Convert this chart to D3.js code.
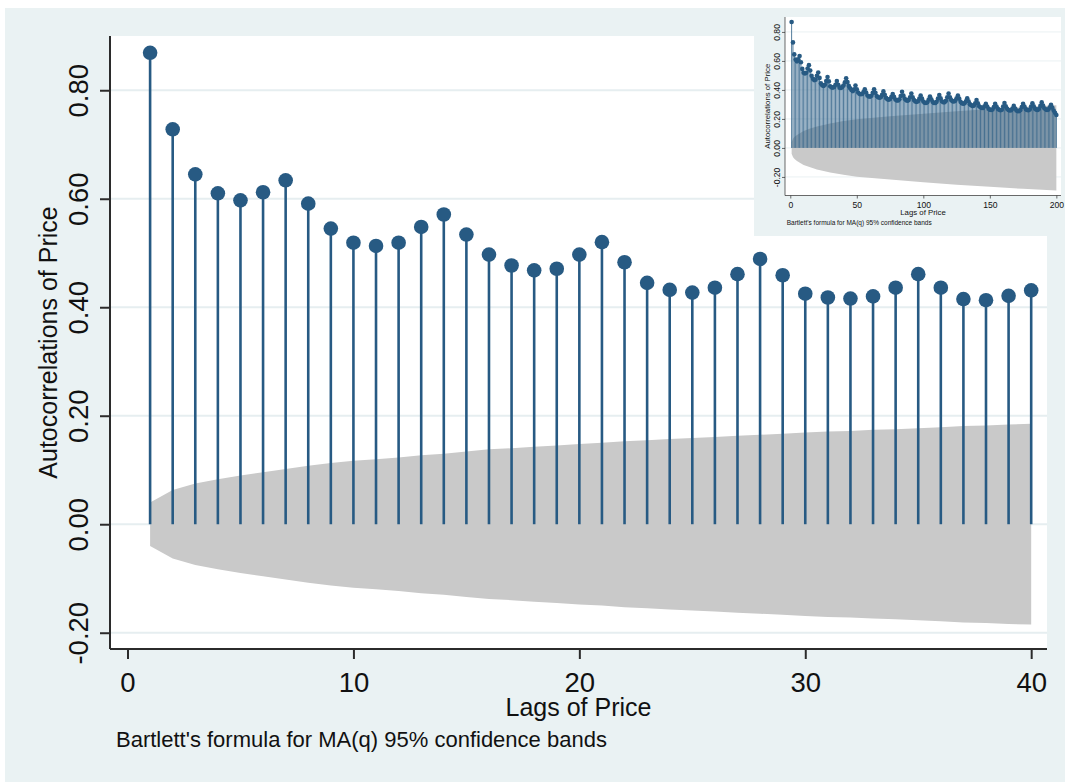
<!DOCTYPE html>
<html>
<head>
<meta charset="utf-8">
<script src="https://cdn.jsdelivr.net/npm/d3@7/dist/d3.min.js"></script>
<style>
  body { margin: 0; background: #ffffff; }
  text { font-family: "Liberation Sans", Arial, Helvetica, sans-serif; fill: #111; }
</style>
</head>
<body>
<svg id="canvas" width="1065" height="782"></svg>
<script>
// autocorrelations of Price, lags 1..40
let acf40 = [0.869, 0.728, 0.645, 0.610, 0.597, 0.612, 0.634, 0.591, 0.545, 0.519,
             0.513, 0.519, 0.548, 0.571, 0.534, 0.497, 0.477, 0.468, 0.471, 0.497,
             0.520, 0.483, 0.445, 0.432, 0.427, 0.436, 0.461, 0.489, 0.459, 0.425,
             0.418, 0.416, 0.420, 0.436, 0.461, 0.436, 0.415, 0.413, 0.421, 0.431]

// Bartlett 95% band half-width, lags 1..40
let band40 = [0.040, 0.063, 0.075, 0.083, 0.090, 0.096, 0.102, 0.108, 0.113, 0.117,
              0.120, 0.123, 0.127, 0.130, 0.134, 0.138, 0.140, 0.143, 0.145, 0.148,
              0.150, 0.153, 0.155, 0.157, 0.159, 0.161, 0.163, 0.165, 0.167, 0.169,
              0.171, 0.172, 0.174, 0.175, 0.177, 0.179, 0.181, 0.182, 0.184, 0.185]

// inset: lags 41..200
let acfTail = [0.452, 0.480, 0.455, 0.428, 0.412, 0.400, 0.392, 0.405, 0.430,
               0.405, 0.382, 0.373, 0.370, 0.372, 0.385, 0.405,
               0.382, 0.362, 0.355, 0.354, 0.360, 0.380, 0.405,
               0.380, 0.358, 0.350, 0.346, 0.350, 0.366, 0.390,
               0.366, 0.345, 0.336, 0.333, 0.337, 0.352, 0.372,
               0.352, 0.334, 0.328, 0.328, 0.335, 0.358, 0.388,
               0.362, 0.340, 0.330, 0.326, 0.330, 0.350, 0.375,
               0.350, 0.330, 0.320, 0.318, 0.322, 0.340, 0.362,
               0.340, 0.320, 0.312, 0.310, 0.315, 0.333, 0.355,
               0.335, 0.318, 0.310, 0.310, 0.318, 0.340, 0.365,
               0.342, 0.322, 0.315, 0.315, 0.325, 0.350, 0.375,
               0.350, 0.330, 0.322, 0.320, 0.325, 0.342, 0.362,
               0.340, 0.318, 0.308, 0.305, 0.308, 0.322, 0.343,
               0.322, 0.302, 0.294, 0.290, 0.292, 0.308, 0.330,
               0.308, 0.288, 0.280, 0.276, 0.276, 0.288, 0.305,
               0.286, 0.270, 0.264, 0.262, 0.265, 0.282, 0.305,
               0.286, 0.270, 0.263, 0.260, 0.263, 0.285, 0.310,
               0.288, 0.270, 0.262, 0.258, 0.260, 0.272, 0.290,
               0.272, 0.258, 0.254, 0.254, 0.262, 0.282, 0.305,
               0.285, 0.268, 0.262, 0.260, 0.265, 0.285, 0.308,
               0.287, 0.270, 0.263, 0.262, 0.270, 0.290, 0.314,
               0.292, 0.274, 0.266, 0.262, 0.265, 0.280, 0.298,
               0.278, 0.258, 0.242, 0.227]
let acf200 = acf40.concat(acfTail)

let bandLags200 = [1, 2, 3, 5, 10, 15, 20, 25, 30, 40, 50, 75, 100, 125, 150, 175, 200]
let band200 = [0.040, 0.063, 0.075, 0.090, 0.117, 0.134, 0.148, 0.159, 0.169, 0.185,
               0.198, 0.218, 0.236, 0.253, 0.268, 0.282, 0.294]

let yTicks = [-0.2, 0, 0.2, 0.4, 0.6, 0.8]
let xTicks40 = [0, 10, 20, 30, 40]
let xTicks200 = [0, 50, 100, 150, 200]

let yTitle = 'Autocorrelations of Price'
let xTitle = 'Lags of Price'
let note = "Bartlett's formula for MA(q) 95% confidence bands"

let navy = '#275a83'
let bandGray = '#c9c9c9'
let bg = '#eaf2f3'
let gridColor = '#e6eef0'

let canvas = d3.select('#canvas')

canvas.append('rect')
      .attr('x', 5).attr('y', 8)
      .attr('width', 1060).attr('height', 774)
      .attr('fill', bg)

// Stata style: plain hyphen for negatives
let fmt2 = (d) => d3.format('.2f')(d).replace('\u2212', '-')

let drawPanel = (g, p) => {
  let xScale = d3.scaleLinear().domain(p.xDomain).range([p.left, p.right])
  let yScale = d3.scaleLinear().domain(p.yDomain).range([p.bottom, p.top])

  g.append('rect')
   .attr('x', p.left).attr('y', p.top)
   .attr('width', p.right - p.left).attr('height', p.bottom - p.top)
   .attr('fill', 'white')

  g.selectAll('line.grid')
   .data(yTicks)
   .enter()
   .append('line')
   .attr('class', 'grid')
   .attr('x1', p.left).attr('x2', p.right)
   .attr('y1', (d) => yScale(d)).attr('y2', (d) => yScale(d))
   .attr('stroke', gridColor)
   .attr('stroke-width', p.gridWidth)

  let area = d3.area()
               .x((d) => xScale(d.lag))
               .y0((d) => yScale(-d.se))
               .y1((d) => yScale(d.se))
  g.append('path')
   .datum(p.band)
   .attr('d', area)
   .attr('fill', bandGray)

  let points = p.acf.map((v, i) => ({ lag: i + 1, value: v }))

  g.selectAll('line.stem')
   .data(points)
   .enter()
   .append('line')
   .attr('class', 'stem')
   .attr('x1', (d) => xScale(d.lag)).attr('x2', (d) => xScale(d.lag))
   .attr('y1', yScale(0)).attr('y2', (d) => yScale(d.value))
   .attr('stroke', navy)
   .attr('stroke-width', p.stemWidth)

  g.selectAll('circle.dot')
   .data(points)
   .enter()
   .append('circle')
   .attr('class', 'dot')
   .attr('cx', (d) => xScale(d.lag))
   .attr('cy', (d) => yScale(d.value))
   .attr('r', p.r)
   .attr('fill', navy)

  // y axis
  let yAxis = d3.axisLeft(yScale)
                .tickValues(yTicks)
                .tickFormat(fmt2)
                .tickSize(p.tick)
                .tickSizeOuter(0)
  let yg = g.append('g')
            .attr('transform', 'translate(' + p.left + ',0)')
            .call(yAxis)
  yg.select('.domain').remove()
  yg.selectAll('.tick line').attr('stroke', '#2b2b2b').attr('stroke-width', p.axisWidth)
  yg.selectAll('.tick text')
    .attr('transform', 'rotate(-90)')
    .attr('x', 0)
    .attr('y', -p.yLabelGap)
    .attr('dy', 0)
    .attr('text-anchor', 'middle')
    .style('font-size', p.tickFont + 'px')
    .style('font-family', '"Liberation Sans", Arial, sans-serif')
    .attr('fill', '#111')
  g.append('line')
   .attr('x1', p.left).attr('x2', p.left)
   .attr('y1', p.top).attr('y2', p.bottom)
   .attr('stroke', '#2b2b2b').attr('stroke-width', p.axisWidth)

  // x axis
  let xAxis = d3.axisBottom(xScale)
                .tickValues(p.xTicks)
                .tickFormat(d3.format('d'))
                .tickSize(p.tick)
                .tickSizeOuter(0)
  let xg = g.append('g')
            .attr('transform', 'translate(0,' + p.bottom + ')')
            .call(xAxis)
  xg.select('.domain').remove()
  xg.selectAll('.tick line').attr('stroke', '#2b2b2b').attr('stroke-width', p.axisWidth)
  xg.selectAll('.tick text')
    .attr('y', p.xLabelGap)
    .attr('dy', 0)
    .style('font-size', p.tickFont + 'px')
    .style('font-family', '"Liberation Sans", Arial, sans-serif')
    .attr('fill', '#111')
  g.append('line')
   .attr('x1', p.left).attr('x2', p.right)
   .attr('y1', p.bottom).attr('y2', p.bottom)
   .attr('stroke', '#2b2b2b').attr('stroke-width', p.axisWidth)

  // titles
  g.append('text')
   .attr('transform', 'translate(' + p.yTitleX + ',' + (p.top + p.bottom) / 2 + ') rotate(-90)')
   .attr('text-anchor', 'middle')
   .style('font-size', p.titleFont + 'px')
   .text(yTitle)

  g.append('text')
   .attr('x', (p.left + p.right) / 2)
   .attr('y', p.xTitleY)
   .attr('text-anchor', 'middle')
   .style('font-size', p.titleFont + 'px')
   .text(xTitle)

  g.append('text')
   .attr('x', p.noteX)
   .attr('y', p.noteY)
   .style('font-size', p.noteFont + 'px')
   .text(note)
}

// main chart
drawPanel(canvas.append('g'), {
  acf: acf40,
  band: band40.map((se, i) => ({ lag: i + 1, se: se })),
  xTicks: xTicks40,
  xDomain: [-0.775, 40.7], yDomain: [-0.23, 0.9],
  left: 110, right: 1047, top: 36, bottom: 649,
  r: 7.3, stemWidth: 2.6, gridWidth: 2, axisWidth: 2, tick: 10,
  tickFont: 27.5, titleFont: 25, noteFont: 22,
  yLabelGap: 22, xLabelGap: 43,
  yTitleX: 57, xTitleY: 716, noteX: 116, noteY: 747
})

// inset (200 lags)
let inset = canvas.append('g')
inset.append('rect')
     .attr('x', 754).attr('y', 8)
     .attr('width', 311).attr('height', 228)
     .attr('fill', bg)

drawPanel(inset, {
  acf: acf200,
  band: bandLags200.map((lag, i) => ({ lag: lag, se: band200[i] })),
  xTicks: xTicks200,
  xDomain: [-3.98, 203.5], yDomain: [-0.328, 0.903],
  left: 785, right: 1061, top: 17, bottom: 195.5,
  r: 2.3, stemWidth: 0.8, gridWidth: 0.8, axisWidth: 0.7, tick: 3,
  tickFont: 8.6, titleFont: 7.8, noteFont: 6.5,
  yLabelGap: 5, xLabelGap: 12.5,
  yTitleX: 769.8, xTitleY: 215, noteX: 786.7, noteY: 224.5
})
</script>
</body>
</html>
